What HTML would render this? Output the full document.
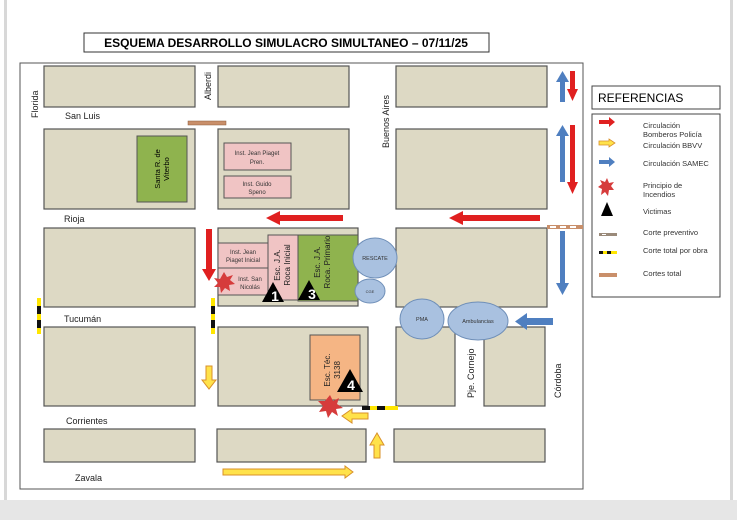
<!DOCTYPE html>
<html><head><meta charset="utf-8"><style>
body{margin:0;width:737px;height:520px;background:#fff;overflow:hidden;font-family:"Liberation Sans",sans-serif}
</style></head><body>
<svg width="737" height="520" viewBox="0 0 737 520" xmlns="http://www.w3.org/2000/svg" font-family="Liberation Sans, sans-serif">
<rect x="0" y="0" width="737" height="520" fill="#fff"/>
<rect x="4" y="0" width="3" height="520" fill="#d8d8d8"/>
<rect x="730" y="0" width="3" height="520" fill="#d8d8d8"/>
<rect x="0" y="500" width="737" height="20" fill="#e6e6e6"/>
<!-- title -->
<rect x="84" y="33" width="405" height="19" fill="#fff" stroke="#333"/>
<text x="286" y="47" font-size="12" font-weight="bold" text-anchor="middle">ESQUEMA DESARROLLO SIMULACRO SIMULTANEO – 07/11/25</text>
<!-- map frame -->
<rect x="20" y="63" width="563" height="426" fill="#fff" stroke="#555"/>
<g fill="#ddd9c4" stroke="#555" stroke-width="1.2">
<rect x="44" y="66" width="151" height="41"/><rect x="218" y="66" width="131" height="41"/><rect x="396" y="66" width="151" height="41"/>
<rect x="44" y="129" width="151" height="80"/><rect x="218" y="129" width="131" height="80"/><rect x="396" y="129" width="151" height="80"/>
<rect x="44" y="228" width="151" height="79"/><rect x="218" y="228" width="140" height="78"/><rect x="396" y="228" width="151" height="79"/>
<rect x="44" y="327" width="151" height="79"/><rect x="218" y="327" width="150" height="79"/><rect x="396" y="327" width="59" height="79"/><rect x="484" y="327" width="61" height="79"/>
<rect x="44" y="429" width="151" height="33"/><rect x="217" y="429" width="149" height="33"/><rect x="394" y="429" width="151" height="33"/>
</g>
<!-- buildings -->
<rect x="137" y="136" width="50" height="66" fill="#8fb34e" stroke="#555"/>
<text transform="translate(160,169) rotate(-90)" font-size="7.5" text-anchor="middle">Santa R. de</text>
<text transform="translate(169,169) rotate(-90)" font-size="7.5" text-anchor="middle">Viterbo</text>
<g fill="#f0c4c4" stroke="#555">
<rect x="224" y="143" width="67" height="27"/><rect x="224" y="176" width="67" height="22"/>
<rect x="218" y="243" width="50" height="25"/><rect x="218" y="268" width="50" height="27"/>
<rect x="268" y="235" width="30" height="65"/>
</g>
<rect x="298" y="235" width="60" height="66" fill="#8fb34e" stroke="#555"/>
<rect x="310" y="335" width="50" height="65" fill="#f5b584" stroke="#555"/>
<g font-size="6" fill="#333" text-anchor="middle">
<text x="257" y="155">Inst. Jean Piaget</text><text x="257" y="164">Pren.</text>
<text x="257" y="186">Inst. Guido</text><text x="257" y="194">Speno</text>
<text x="243" y="254">Inst. Jean</text><text x="243" y="262">Piaget Inicial</text>
<text x="250" y="281">Inst. San</text><text x="250" y="289">Nicolás</text>
</g>
<g font-size="8" fill="#222" text-anchor="middle">
<text transform="translate(280,265) rotate(-90)">Esc. J.A.</text>
<text transform="translate(290,265) rotate(-90)">Roca Inicial</text>
<text transform="translate(320,262) rotate(-90)">Esc. J.A.</text>
<text transform="translate(330,262) rotate(-90)">Roca. Primario</text>
<text transform="translate(330,370) rotate(-90)">Esc. Téc.</text>
<text transform="translate(340,370) rotate(-90)">3138</text>
</g>
<!-- ellipses -->
<g fill="#a9c1e0" stroke="#6f8fb8">
<ellipse cx="375" cy="258" rx="22" ry="20"/><ellipse cx="370" cy="291" rx="15" ry="12"/>
<ellipse cx="422" cy="319" rx="22" ry="20"/><ellipse cx="478" cy="321" rx="30" ry="19"/>
</g>
<g font-size="5.5" text-anchor="middle" fill="#333"><text x="375" y="260">RESCATE</text><text x="370" y="293" font-size="4">CGE</text><text x="422" y="321">PMA</text><text x="478" y="323">Ambulancias</text></g>
<!-- victims -->
<g fill="#000"><polygon points="262,302 273,282 284,302"/><polygon points="298,300 309,280 320,300"/><polygon points="337,392 350,369 363,392"/></g>
<g fill="#fff" font-size="14" font-weight="bold" text-anchor="middle"><text x="275" y="301">1</text><text x="312" y="299">3</text><text x="351" y="390">4</text></g>
<!-- fires -->
<g fill="#d63b3b"><polygon points="224,272 227,277 233,275 230,280 235,284 229,285 230,291 225,288 221,293 220,287 214,287 218,283 214,278 220,279"/>
<polygon points="330,395 333,401 339,398 337,404 343,408 336,409 338,416 332,412 328,418 326,411 319,412 323,406 318,401 325,401"/></g>
<!-- street labels -->
<g font-size="9" fill="#222">
<text x="65" y="119">San Luis</text><text x="64" y="222">Rioja</text><text x="64" y="322">Tucumán</text><text x="66" y="424">Corrientes</text><text x="75" y="481">Zavala</text>
<text transform="translate(38,118) rotate(-90)">Florida</text>
<text transform="translate(211,100) rotate(-90)">Alberdi</text>
<text transform="translate(389,148) rotate(-90)">Buenos Aires</text>
<text transform="translate(474,398) rotate(-90)">Pje. Cornejo</text>
<text transform="translate(561,398) rotate(-90)">Córdoba</text>
</g>
<!-- red arrows -->
<g fill="#e02020">
<rect x="280" y="215" width="63" height="6"/><polygon points="280,211 266,218 280,225"/>
<rect x="463" y="215" width="77" height="6"/><polygon points="463,211 449,218 463,225"/>
<rect x="206" y="229" width="6" height="40"/><polygon points="202,269 209,281 216,269"/>
<rect x="570" y="71" width="5" height="18"/><polygon points="567,89 572.5,101 578,89"/>
<rect x="570" y="125" width="5" height="57"/><polygon points="567,182 572.5,194 578,182"/>
</g>
<g fill="#4f7fc0">
<rect x="560" y="82" width="5" height="20"/><polygon points="556,82 562.5,71 569,82"/>
<rect x="560" y="136" width="5" height="46"/><polygon points="556,136 562.5,125 569,136"/>
<rect x="560" y="231" width="5" height="52"/><polygon points="556,283 562.5,295 569,283"/>
<rect x="526" y="318" width="27" height="7"/><polygon points="527,313 515,321.5 527,330"/>
</g>
<!-- yellow arrows -->
<g fill="#ffe24a" stroke="#d9902a" stroke-width="1">
<polygon points="206,366 212,366 212,380 216,380 209,389 202,380 206,380"/>
<polygon points="352,413 368,413 368,419 352,419 352,423 342,416 352,409"/>
<polygon points="374,458 380,458 380,445 384,445 377,433 370,445 374,445"/>
<polygon points="223,469 345,469 345,466 353,472 345,478 345,475 223,475"/>
</g>
<!-- cortes -->
<rect x="188" y="121" width="38" height="4" fill="#c98f6a" stroke="#8a5a3a" stroke-width="0.5"/>
<g><rect x="547" y="225" width="36" height="4" fill="#c98f6a"/><rect x="550" y="226" width="6" height="2" fill="#fff"/><rect x="560" y="226" width="6" height="2" fill="#fff"/><rect x="570" y="226" width="6" height="2" fill="#fff"/></g>
<g stroke-width="4"><line x1="39" y1="298" x2="39" y2="334" stroke="#ffe600"/><line x1="39" y1="306" x2="39" y2="314" stroke="#111"/><line x1="39" y1="320" x2="39" y2="328" stroke="#111"/>
<line x1="213" y1="298" x2="213" y2="334" stroke="#ffe600"/><line x1="213" y1="306" x2="213" y2="314" stroke="#111"/><line x1="213" y1="320" x2="213" y2="328" stroke="#111"/>
<line x1="362" y1="408" x2="398" y2="408" stroke="#ffe600"/><line x1="362" y1="408" x2="370" y2="408" stroke="#111"/><line x1="377" y1="408" x2="385" y2="408" stroke="#111"/></g>
<!-- legend -->
<rect x="592" y="86" width="128" height="23" fill="#fff" stroke="#444"/>
<text x="598" y="102" font-size="12">REFERENCIAS</text>
<rect x="592" y="114" width="128" height="183" fill="#fff" stroke="#444"/>
<g font-size="7.5" fill="#333">
<text x="643" y="128">Circulación</text><text x="643" y="137">Bomberos Policía</text>
<text x="643" y="148">Circulación BBVV</text>
<text x="643" y="166">Circulación SAMEC</text>
<text x="643" y="188">Principio de</text><text x="643" y="197">Incendios</text>
<text x="643" y="214">Victimas</text>
<text x="643" y="235">Corte preventivo</text>
<text x="643" y="253">Corte total por obra</text>
<text x="643" y="276">Cortes total</text>
</g>
<rect x="599" y="120" width="10" height="4" fill="#e02020"/><polygon points="609,117 615,122 609,127" fill="#e02020"/>
<polygon points="599,141 609,141 609,139 615,143 609,147 609,145 599,145" fill="#ffe24a" stroke="#d9902a" stroke-width="0.8"/>
<rect x="599" y="160" width="10" height="4" fill="#4f7fc0"/><polygon points="609,157 615,162 609,167" fill="#4f7fc0"/>
<polygon points="607,178 609,183 614,182 611,186 614,190 609,190 608,196 605,192 601,195 602,189 598,187 602,184 600,180 605,182" fill="#d63b3b"/>
<polygon points="601,216 607,202 613,216" fill="#000"/>
<rect x="599" y="233" width="18" height="3" fill="#9a8a7a"/><rect x="602" y="234" width="4" height="1" fill="#fff"/>
<rect x="599" y="251" width="18" height="3" fill="#ffe600"/><rect x="599" y="251" width="4" height="3" fill="#111"/><rect x="607" y="251" width="4" height="3" fill="#111"/>
<rect x="599" y="273" width="18" height="4" fill="#c98f6a"/>
</svg>
</body></html>
